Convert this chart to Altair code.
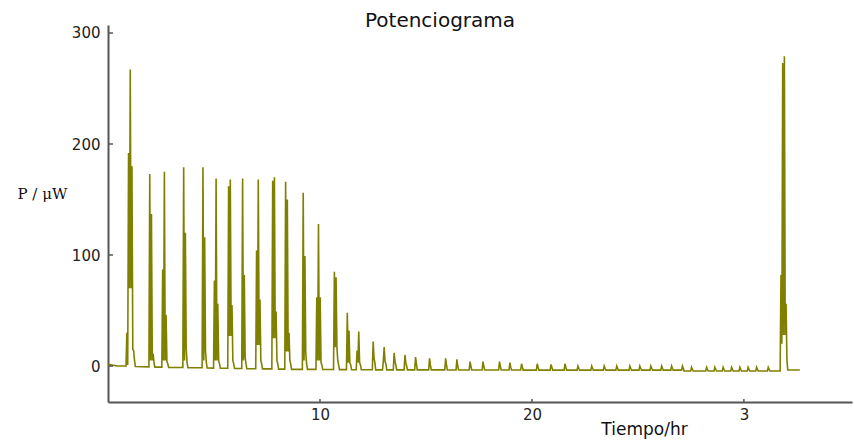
import altair as alt
import pandas as pd

# ---- data (time in hr, power in µW) ----
# trace start / end points
start_t = [0.0, 0.45]
start_p = [1.5, 0.0]
end_t = [32.64]
end_p = [-3.6]

# sampling interval of the thermogram inside a peak (hr)
sample_dt = 0.04

# each injection peak: time of its first sample and the successive power samples
peak_start = [
    0.85, 1.93, 2.54, 3.53, 4.44, 4.98, 5.65, 6.31, 6.97, 7.73,
    8.34, 9.17, 9.81, 10.64, 11.25, 11.71, 12.47, 12.95, 13.46, 13.97,
    14.47, 15.13, 15.89, 16.42, 17.04, 17.65, 18.43, 18.92, 19.47, 20.21,
    20.86, 21.52, 22.13, 22.78, 23.37, 23.96, 24.58, 25.05, 25.57, 26.08,
    26.55, 27.06, 27.49, 28.20, 28.59, 28.98, 29.38, 29.77, 30.16, 30.56,
    31.11, 31.71,
]
peak_levels = [
    [0, 30, 1, 192, 70, 267, 70, 180, 15, 14, 5, -0.5],
    [-0.8, 173, 5, 137, 5, 11, 3, -1],
    [-1, 87, 5, 175, 5, 46, 4, 2, -1.2],
    [-1.3, 179, 5, 120, 16, 3, -1.5],
    [-1.6, 179, 5, 116, 14, 3, -1.8],
    [-1.9, 77, 5, 169, 5, 56, 5, 2, -2],
    [-2, 162, 27, 168, 27, 55, 5, 2, -2.2],
    [-2.2, 169, 5, 82, 8, 2, -2.4],
    [-2.4, 104, 19, 168, 19, 60, 5, 2, -2.6],
    [-2.6, 167, 25, 170, 25, 49, 5, 2, -2.8],
    [-2.8, 166, 13, 150, 13, 30, 5, 2, -3],
    [-3, 156, 5, 99, 12, 2, -3],
    [-3, 62, 5, 128, 5, 62, 3, 1, -3.1],
    [-3.1, 85, 17, 80, 17, 5, 1, -3.2],
    [-3.2, 48, 3, 32, 3, 1, -3.3],
    [-3.3, 14, 3, 31, 3, 1, -3.4],
    [-3.4, 22, 7, 3, -3.5],
    [-3.5, 5, 17, 4, 2, -3.5],
    [-3.5, 12, 4, 1, -3.5],
    [-3.5, 10, 3, 0, -3.5],
    [-3.5, 8, 2, -3.5],
    [-3.5, 7, 1, -3.5],
    [-3.5, 7, 1, -3.6],
    [-3.6, 6, 0, -3.6],
    [-3.6, 4, 0, -3.6],
    [-3.6, 4, 0, -3.6],
    [-3.6, 4, 0, -3.6],
    [-3.6, 3, -1, -3.6],
    [-3.6, 2, -1, -3.7],
    [-3.7, 2, -1, -3.7],
    [-3.7, 1.5, -1, -3.7],
    [-3.7, 2, -1, -3.7],
    [-3.7, 0, -2, -3.7],
    [-3.7, 0, -2, -3.7],
    [-3.7, 0, -2, -3.7],
    [-3.7, 0, -2, -3.7],
    [-3.7, 0, -2, -3.7],
    [-3.7, 0, -2, -3.7],
    [-3.7, 0, -2, -3.7],
    [-3.7, 0, -2, -3.7],
    [-3.7, 0, -2, -3.7],
    [-3.7, 0, -2, -4.5],
    [-4.5, -1.2, -3, -4.5],
    [-4.5, -1.2, -3, -4.5],
    [-4.5, -1.2, -3, -4.5],
    [-4.5, -1.2, -3, -4.5],
    [-4.5, -1.2, -3, -4.5],
    [-4.5, -1.2, -3, -4.5],
    [-4.5, -1.2, -3, -4.5],
    [-4.5, -1.2, -3, -4.5],
    [-4.5, -1.2, -3, -4.5],
    [-4.5, 82, 20, 273, 28, 279, 28, 56, 5, -3.6],
]

x_ticks = [10, 20, 30]
y_ticks = [0, 100, 200, 300]

# ---- build the trace table ----
ts, ps = list(start_t), list(start_p)
for t0, levels in zip(peak_start, peak_levels):
    for i, v in enumerate(levels):
        ts.append(t0 + i * sample_dt)
        ps.append(v)
ts += end_t
ps += end_p
df = pd.DataFrame({"t": ts, "p": ps, "i": range(len(ts))})

W, H = 744, 377
xscale = alt.Scale(domain=[0, 35.1], nice=False, zero=False)
yscale = alt.Scale(domain=[-32.4, 307.2], nice=False, zero=False)

AX = "#555555"
line = alt.Chart(df).mark_line(color="#808000", strokeWidth=1.6, clip=True).encode(
    x=alt.X("t:Q", scale=xscale, axis=alt.Axis(
        values=x_ticks, labelExpr="datum.value == 30 ? '3' : datum.label",
        tickSize=0, grid=False, domainColor=AX, domainWidth=2,
        labelFont="DejaVu Sans", labelFontSize=15, labelColor="#222", labelPadding=5,
        title="Tiempo/hr", titleFont="DejaVu Sans", titleFontSize=17, titleFontWeight="normal",
        titleColor="#111", titleX=536, titleY=27, titleAlign="center", titleBaseline="middle")),
    y=alt.Y("p:Q", scale=yscale, axis=alt.Axis(
        values=y_ticks, tickSize=0, grid=False, domainColor=AX, domainWidth=2,
        labelFont="DejaVu Sans", labelFontSize=15, labelColor="#222", labelPadding=8,
        title="P / μW", titleFont="DejaVu Serif", titleFontSize=15, titleFontWeight="normal",
        titleColor="#111", titleAngle=0, titleX=-91, titleY=168, titleAlign="left",
        titleBaseline="middle")),
    order="i:Q",
)

ytick_df = pd.DataFrame({"p": y_ticks})
xtick_df = pd.DataFrame({"t": x_ticks})
yt = alt.Chart(ytick_df).mark_rule(color=AX, strokeWidth=1.5).encode(
    y=alt.Y("p:Q", scale=yscale), x=alt.value(0), x2=alt.value(5))
xt = alt.Chart(xtick_df).mark_rule(color=AX, strokeWidth=1.5).encode(
    x=alt.X("t:Q", scale=xscale), y=alt.value(H), y2=alt.value(H - 3))

chart = alt.layer(line, yt, xt).properties(
    width=W, height=H,
    title=alt.TitleParams("Potenciograma", font="DejaVu Sans", fontSize=20, fontWeight="normal",
                          color="#111", anchor="middle", dx=-40, offset=-6),
    autosize=alt.AutoSizeParams(type="none"),
    padding={"left": 108, "top": 25, "right": 2, "bottom": 40},
    background="white",
).configure_view(stroke=None)

chart.save("out.html", embed_options={"renderer": "svg", "actions": False})
